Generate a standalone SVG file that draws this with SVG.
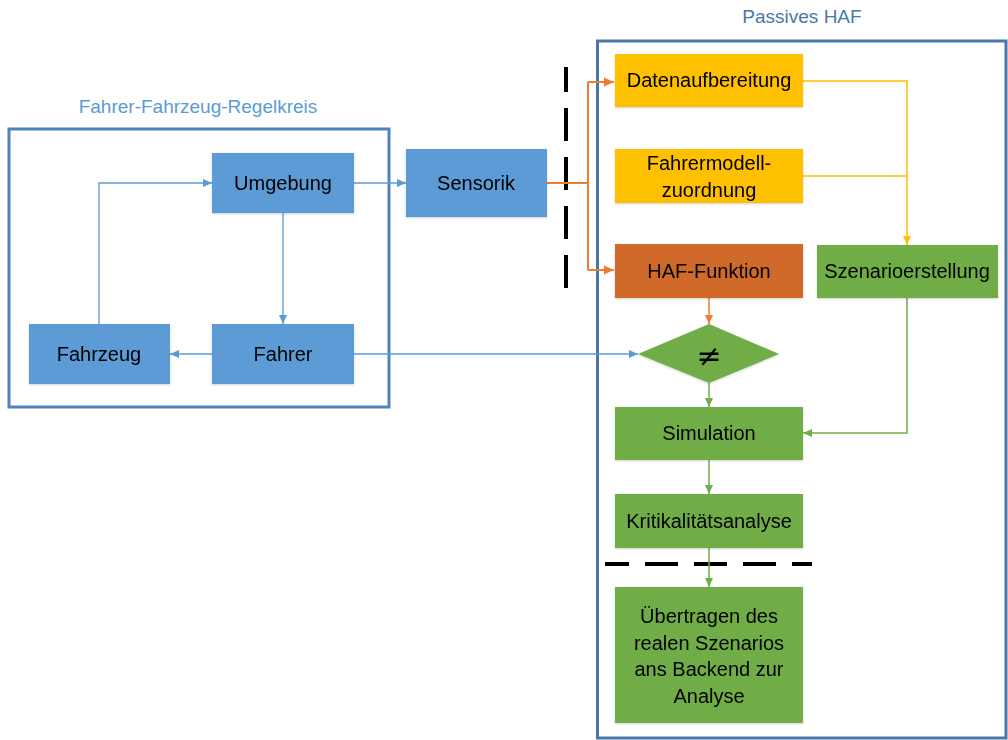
<svg xmlns="http://www.w3.org/2000/svg" width="1008" height="740" viewBox="0 0 1008 740">
  <style>
    text { font-family: "Liberation Sans", Arial, sans-serif; fill: #000; }
    .lbl { font-size: 20px; text-anchor: middle; dominant-baseline: central; }
    .title { font-size: 19px; text-anchor: middle; }
    .frame { fill: none; stroke-width: 3; }
    .blue { fill: #5b9bd5; }
    .yellow { fill: #ffc000; }
    .orange { fill: #d06a2a; }
    .green { fill: #70ad47; }
    .node { filter: url(#shadow); }
    .c-blue { fill: none; stroke: #5b9bd5; stroke-width: 1.3; marker-end: url(#ah-blue); }
    .c-orange { fill: none; stroke: #ed7d31; stroke-width: 2; }
    .c-yellow { fill: none; stroke: #ffc000; stroke-width: 1.5; }
    .c-green { fill: none; stroke: #70ad47; stroke-width: 1.5; marker-end: url(#ah-green); }
    .dash { fill: none; stroke: #000; stroke-width: 4; stroke-dasharray: 33 16; }
  </style>
  <defs>
    <filter id="shadow" x="-10%" y="-10%" width="120%" height="130%">
      <feDropShadow dx="0" dy="1" stdDeviation="1.2" flood-color="#000" flood-opacity="0.18"/>
    </filter>
    <marker id="ah-blue" markerUnits="userSpaceOnUse" markerWidth="10" markerHeight="10" refX="9" refY="5" orient="auto">
      <path d="M0,1 L9,5 L0,9 Z" fill="#5b9bd5"/>
    </marker>
    <marker id="ah-green" markerUnits="userSpaceOnUse" markerWidth="10" markerHeight="10" refX="9" refY="5" orient="auto">
      <path d="M0,1 L9,5 L0,9 Z" fill="#70ad47"/>
    </marker>
    <marker id="ah-orange" markerUnits="userSpaceOnUse" markerWidth="12" markerHeight="12" refX="10" refY="6" orient="auto">
      <path d="M0,1.5 L10,6 L0,10.5 Z" fill="#ed7d31"/>
    </marker>
    <marker id="ah-orange-s" markerUnits="userSpaceOnUse" markerWidth="10" markerHeight="10" refX="9" refY="5" orient="auto">
      <path d="M0,1 L9,5 L0,9 Z" fill="#ed7d31"/>
    </marker>
    <marker id="ah-yellow" markerUnits="userSpaceOnUse" markerWidth="10" markerHeight="10" refX="9" refY="5" orient="auto">
      <path d="M0,1 L9,5 L0,9 Z" fill="#ffc000"/>
    </marker>
  </defs>

  <rect width="1008" height="740" fill="#fff"/>

  <!-- Frames -->
  <g id="regelkreis">
    <text class="title" x="198" y="113" style="fill:#5b9bd5">Fahrer-Fahrzeug-Regelkreis</text>
    <rect class="frame" x="9" y="129" width="380" height="278" stroke="#5282bb"/>
  </g>
  <g id="passives-haf">
    <text class="title" x="802" y="23" style="fill:#4a78a9">Passives HAF</text>
    <rect class="frame" x="597.5" y="41" width="408.5" height="697" stroke="#4a76a8"/>
  </g>

  <!-- Separators -->
  <g id="separators">
    <line class="dash" x1="566" y1="67" x2="566" y2="292" stroke-dashoffset="8"/>
    <line class="dash" x1="605" y1="564" x2="812" y2="564" stroke-dashoffset="9"/>
  </g>

  <!-- Connectors -->
  <g id="connectors">
    <path class="c-blue" d="M99,324 V183 H212"/>
    <path class="c-blue" d="M283,213 V324"/>
    <path class="c-blue" d="M212,354 H170"/>
    <path class="c-blue" d="M354,183 H406"/>
    <path class="c-blue" d="M354,354 H638"/>
    <path class="c-orange" d="M547,183 H588"/>
    <path class="c-orange" d="M588,82 V270"/>
    <path class="c-orange" d="M588,82 H614" marker-end="url(#ah-orange)"/>
    <path class="c-orange" d="M588,270 H614" marker-end="url(#ah-orange)"/>
    <path class="c-yellow" d="M803,81 H907 V245" marker-end="url(#ah-yellow)"/>
    <path class="c-yellow" d="M803,176 H907"/>
    <path class="c-orange" style="stroke-width:1.5" d="M709,298 V324" marker-end="url(#ah-orange-s)"/>
    <path class="c-green" d="M709,383 V407"/>
    <path class="c-green" d="M907,298 V433 H803"/>
    <path class="c-green" d="M709,460 V494"/>
    <path class="c-green" d="M709,548 V587"/>
  </g>

  <!-- Nodes -->
  <g id="umgebung" class="node">
    <rect class="blue" x="212" y="153" width="142" height="60"/>
    <text class="lbl" x="283" y="183">Umgebung</text>
  </g>
  <g id="fahrer" class="node">
    <rect class="blue" x="212" y="324" width="142" height="60"/>
    <text class="lbl" x="283" y="354">Fahrer</text>
  </g>
  <g id="fahrzeug" class="node">
    <rect class="blue" x="29" y="324" width="141" height="60"/>
    <text class="lbl" x="99" y="354">Fahrzeug</text>
  </g>
  <g id="sensorik" class="node">
    <rect class="blue" x="406" y="149" width="141" height="68"/>
    <text class="lbl" x="476" y="183">Sensorik</text>
  </g>
  <g id="datenaufbereitung" class="node">
    <rect class="yellow" x="615" y="54" width="188" height="53"/>
    <text class="lbl" x="709" y="80">Datenaufbereitung</text>
  </g>
  <g id="fahrermodell" class="node">
    <rect class="yellow" x="615" y="149" width="188" height="54"/>
    <text class="lbl" x="709" y="163">Fahrermodell-</text>
    <text class="lbl" x="709" y="190">zuordnung</text>
  </g>
  <g id="haf-funktion" class="node">
    <rect class="orange" x="615" y="244" width="188" height="54"/>
    <text class="lbl" x="709" y="271">HAF-Funktion</text>
  </g>
  <g id="szenarioerstellung" class="node">
    <rect class="green" x="817" y="245" width="181" height="53"/>
    <text class="lbl" x="907" y="271">Szenarioerstellung</text>
  </g>
  <g id="vergleich" class="node">
    <polygon class="green" points="709,324 779,354 709,383 638,354"/>
    <text class="lbl" x="709" y="355" style="font-size:30px;font-family:'DejaVu Sans',sans-serif">≠</text>
  </g>
  <g id="simulation" class="node">
    <rect class="green" x="615" y="407" width="188" height="53"/>
    <text class="lbl" x="709" y="433">Simulation</text>
  </g>
  <g id="kritikalitaetsanalyse" class="node">
    <rect class="green" x="615" y="494" width="188" height="54"/>
    <text class="lbl" x="709" y="521">Kritikalitätsanalyse</text>
  </g>
  <g id="uebertragen" class="node">
    <rect class="green" x="615" y="587" width="188" height="136"/>
    <text class="lbl" x="709" y="616">Übertragen des</text>
    <text class="lbl" x="709" y="643">realen Szenarios</text>
    <text class="lbl" x="709" y="669">ans Backend zur</text>
    <text class="lbl" x="709" y="696">Analyse</text>
  </g>
</svg>
